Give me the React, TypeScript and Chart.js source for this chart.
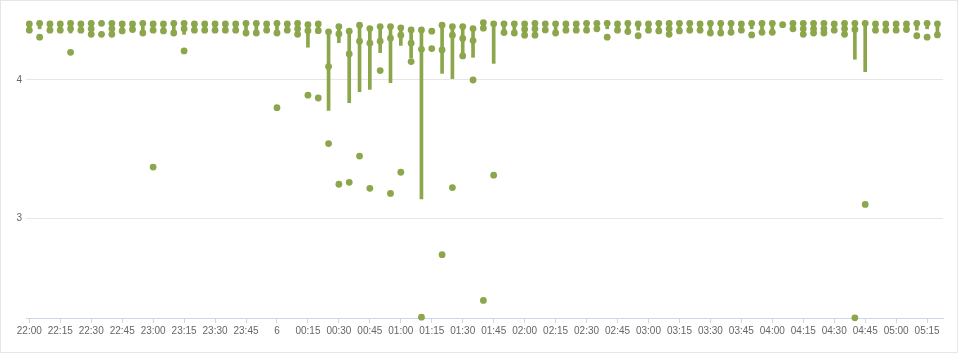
import React, { useEffect, useRef } from 'react';
import { Chart, registerables } from 'chart.js';

Chart.register(...registerables);

const COLOR = '#8ca64b';

// x tick labels every 15 minutes (every 3rd 5-minute slot), starting 22:00
const xTickLabels = [
  '22:00', '22:15', '22:30', '22:45', '23:00', '23:15', '23:30', '23:45',
  '6', '00:15', '00:30', '00:45', '01:00', '01:15', '01:30', '01:45',
  '02:00', '02:15', '02:30', '02:45', '03:00', '03:15', '03:30', '03:45',
  '04:00', '04:15', '04:30', '04:45', '05:00', '05:15',
];
const xTickSlots = [
  0, 3, 6, 9, 12, 15, 18, 21, 24, 27, 30, 33, 36, 39, 42, 45,
  48, 51, 54, 57, 60, 63, 66, 69, 72, 75, 78, 81, 84, 87,
];
const yTickValues = [3, 4];

// per 5-minute slot (22:00 .. 05:20), 89 slots
const slotHigh = [
  4.405, 4.41, 4.405, 4.405, 4.41, 4.405, 4.41, 4.41, 4.41, 4.405,
  4.405, 4.41, 4.405, 4.405, 4.41, 4.41, 4.405, 4.405, 4.405, 4.405,
  4.405, 4.41, 4.41, 4.405, 4.41, 4.405, 4.41, 4.40, 4.405, 4.348,
  4.386, 4.353, 4.396, 4.372, 4.386, 4.386, 4.377, 4.362, 4.362, 4.353,
  4.396, 4.386, 4.386, 4.372, 4.415, 4.406, 4.406, 4.406, 4.406, 4.41,
  4.406, 4.406, 4.405, 4.405, 4.41, 4.41, 4.41, 4.405, 4.41, 4.405,
  4.405, 4.41, 4.41, 4.41, 4.41, 4.405, 4.41, 4.41, 4.41, 4.405,
  4.41, 4.41, 4.41, 4.40, 4.41, 4.41, 4.41, 4.41, 4.405, 4.41,
  4.41, 4.41, 4.405, 4.405, 4.405, 4.405, 4.41, 4.41, 4.406,
];
const slotMid = [
  4.36, 4.31, 4.36, 4.36, 4.37, 4.36, 4.37, 4.33, 4.37, 4.355,
  4.365, 4.34, 4.36, 4.355, 4.34, 4.37, 4.36, 4.36, 4.36, 4.36,
  4.36, 4.34, 4.34, 4.36, 4.34, 4.36, 4.37, 4.357, 4.357, 4.097,
  4.333, 4.188, 4.28, 4.266, 4.28, 4.302, 4.324, 4.266, 4.222, 4.227,
  4.217, 4.324, 4.30, 4.285, 4.375, null, 4.343, 4.34, 4.367, 4.37,
  4.362, 4.34, 4.36, 4.36, 4.36, 4.37, 4.31, 4.36, 4.35, 4.32,
  4.36, 4.355, 4.37, 4.355, 4.36, 4.36, 4.34, 4.34, 4.345, 4.36,
  4.326, 4.345, 4.345, null, 4.37, 4.37, 4.37, 4.37, 4.36, 4.37,
  4.365, null, 4.36, 4.36, 4.36, 4.365, 4.32, 4.31, 4.326,
];
const slotLow = [
  null, null, null, null, null, null, 4.33, null, 4.33, null,
  null, null, null, null, null, null, null, null, null, null,
  null, null, null, null, null, null, 4.33, null, null, null,
  null, null, null, null, null, null, null, null, null, null,
  null, null, null, null, null, null, null, null, 4.324, 4.324,
  null, null, null, null, null, null, null, null, null, null,
  null, null, 4.33, null, null, null, null, null, null, null,
  null, null, null, null, null, 4.33, 4.34, 4.34, null, 4.33,
  null, null, null, null, null, null, null, null, null,
];
// lower end of each slot's range bar (bar runs up to slotHigh)
const barLow = [
  4.36, 4.37, 4.36, 4.36, 4.34, 4.36, 4.33, null, 4.33, 4.355,
  4.365, 4.34, 4.36, 4.355, 4.34, 4.33, 4.36, 4.36, 4.36, 4.36,
  4.36, 4.34, 4.34, 4.36, 4.34, 4.36, 4.33, 4.237, 4.357, 3.78,
  4.27, 3.836, 3.915, 3.932, 4.198, 3.98, 4.25, 4.16, 3.14, null,
  4.048, 4.01, 4.19, 4.164, 4.375, 4.12, 4.343, 4.34, 4.324, 4.324,
  4.362, 4.34, 4.36, 4.36, 4.36, 4.37, 4.37, 4.36, 4.35, 4.36,
  4.36, 4.355, 4.33, 4.355, 4.36, 4.36, 4.34, 4.34, 4.345, 4.36,
  4.37, 4.345, 4.345, null, 4.37, 4.33, 4.34, 4.34, 4.36, 4.33,
  4.15, 4.06, 4.36, 4.36, 4.36, 4.365, 4.36, 4.37, 4.326,
];
const slotOutlier = [
  null, null, null, null, 4.20, null, null, null, null, null,
  null, null, 3.37, null, null, 4.21, null, null, null, null,
  null, null, null, null, 3.80, null, null, 3.89, 3.87, 3.54,
  3.246, 3.26, 3.45, 3.217, 4.068, 3.18, 3.333, 4.133, 2.285, null,
  2.737, 3.222, 4.174, 4.0, 2.406, 3.312, null, null, null, null,
  null, null, null, null, null, null, null, null, null, null,
  null, null, null, null, null, null, null, null, null, null,
  null, null, null, null, null, null, null, null, null, null,
  2.28, 3.10, null, null, null, null, null, null, null,
];

export default function App() {
  const ref = useRef<HTMLCanvasElement | null>(null);

  useEffect(() => {
    const canvas = ref.current;
    if (!canvas) return;

    const points: { x: number; y: number }[] = [];
    const addAll = (arr: (number | null)[]) =>
      arr.forEach((v, i) => {
        if (v !== null && v !== undefined) points.push({ x: i, y: v });
      });
    addAll(slotHigh);
    addAll(slotMid);
    addAll(slotLow);
    addAll(slotOutlier);

    const bars: { x: number; y: [number, number] }[] = [];
    barLow.forEach((lo, i) => {
      if (lo !== null && lo !== undefined) bars.push({ x: i, y: [lo, slotHigh[i]] });
    });

    const font = { family: "'Liberation Sans', Arial, sans-serif", size: 10 };

    const chart = new Chart(canvas, {
      type: 'bar',
      data: {
        datasets: [
          {
            type: 'scatter',
            data: points,
            backgroundColor: COLOR,
            borderWidth: 0,
            pointRadius: 3.4,
            pointHoverRadius: 3.4,
            showLine: false,
            clip: false,
            order: 0,
          } as any,
          {
            type: 'bar',
            data: bars as any,
            backgroundColor: COLOR,
            borderWidth: 0,
            barThickness: 3,
            order: 1,
          } as any,
        ],
      },
      options: {
        animation: false,
        responsive: false,
        devicePixelRatio: 1,
        layout: { padding: { top: 17, right: 14, left: 0, bottom: 0 } },
        plugins: { legend: { display: false }, tooltip: { enabled: false } },
        scales: {
          x: {
            type: 'linear',
            min: -0.32,
            max: 88.54,
            offset: false,
            afterFit: (axis: any) => {
              axis.height = 34;
            },
            afterBuildTicks: (axis: any) => {
              axis.ticks = xTickSlots.map((v) => ({ value: v }));
            },
            grid: {
              display: true,
              drawOnChartArea: false,
              drawTicks: true,
              tickLength: 5,
              color: '#ccd6eb',
              offset: false,
            },
            border: { display: true, color: '#ccd6eb' },
            ticks: {
              autoSkip: false,
              maxRotation: 0,
              minRotation: 0,
              padding: 2,
              color: '#666666',
              font,
              callback: (_v: any, index: number) => xTickLabels[index],
            },
          },
          y: {
            type: 'linear',
            min: 2.279,
            max: 4.4483,
            afterFit: (axis: any) => {
              axis.width = 25;
            },
            afterBuildTicks: (axis: any) => {
              axis.ticks = yTickValues.map((v) => ({ value: v }));
            },
            grid: { color: '#e6e6e6', drawTicks: false },
            border: { display: false },
            ticks: {
              padding: 4,
              color: '#666666',
              font,
              callback: (v: any) => String(v),
            },
          },
        },
      } as any,
    });

    return () => chart.destroy();
  }, []);

  return (
    <div
      style={{
        position: 'absolute',
        left: 0,
        top: 0,
        width: 958,
        height: 353,
        boxSizing: 'border-box',
        border: '1px solid #e6e6e6',
        background: '#ffffff',
      }}
    >
      <canvas ref={ref} width={956} height={351} style={{ display: 'block', width: 956, height: 351 }} />
    </div>
  );
}
